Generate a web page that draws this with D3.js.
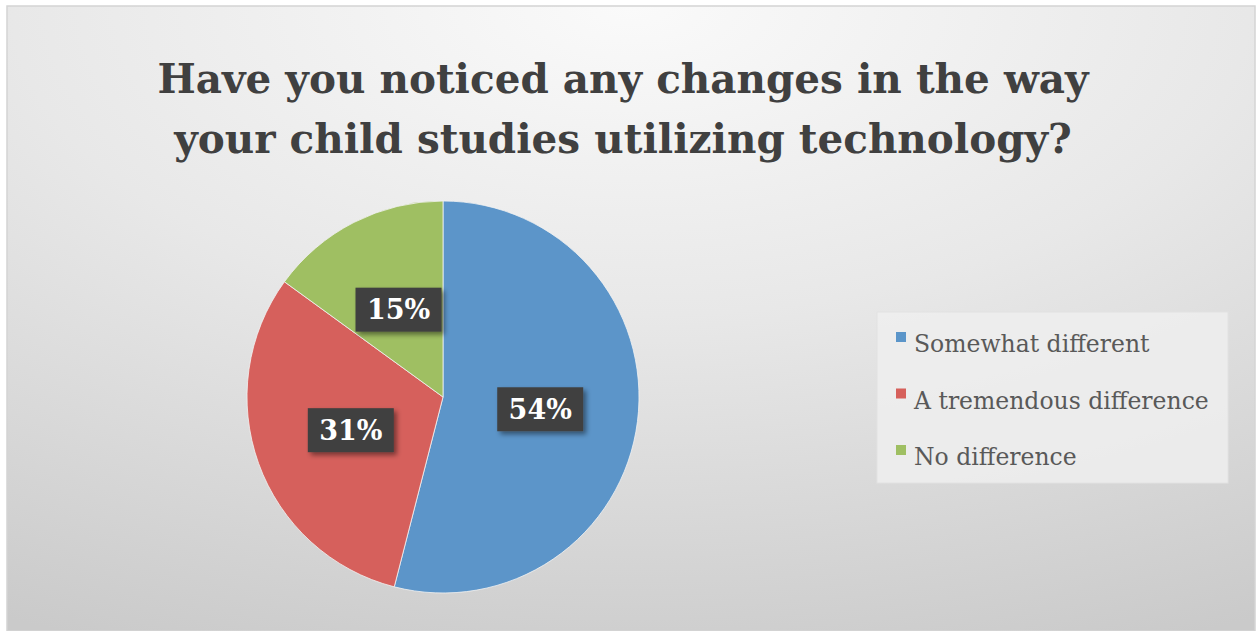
<!DOCTYPE html>
<html>
<head>
<meta charset="utf-8">
<script src="https://cdn.jsdelivr.net/npm/d3@7"></script>
<style>
  html, body { margin: 0; padding: 0; background: #ffffff; }
  svg { display: block; }
</style>
</head>
<body>
<svg id="chart" width="1257" height="631"></svg>
<script>
// Survey responses
const categories = ["Somewhat different", "A tremendous difference", "No difference"];
const percentages = [54, 31, 15];
const sliceColors = ["#5b95c9", "#d6605b", "#9fbf62"];
const titleLines = ["Have you noticed any changes in the way", "your child studies utilizing technology?"];

const W = 1257, H = 631;
const svg = d3.select("#chart");
const defs = svg.append("defs");

// Soft grey panel gradient, light at the top centre
const bg = defs.append("radialGradient").attr("id", "panelBg")
  .attr("cx", "50%").attr("cy", "0%").attr("r", "110%")
  .attr("fx", "50%").attr("fy", "0%");
bg.append("stop").attr("offset", "0%").attr("stop-color", "#fafafa");
bg.append("stop").attr("offset", "45%").attr("stop-color", "#e8e8e8");
bg.append("stop").attr("offset", "100%").attr("stop-color", "#cacaca");

const shadow = defs.append("filter").attr("id", "boxShadow")
  .attr("x", "-20%").attr("y", "-20%").attr("width", "150%").attr("height", "160%");
shadow.append("feDropShadow").attr("dx", 3).attr("dy", 3).attr("stdDeviation", 2.5)
  .attr("flood-color", "#000").attr("flood-opacity", 0.45);

const soft = defs.append("filter").attr("id", "soft");
soft.append("feGaussianBlur").attr("stdDeviation", 0.6);

// Chart panel
svg.append("rect")
  .attr("x", 7).attr("y", 6).attr("width", W - 9).attr("height", H - 6)
  .attr("fill", "url(#panelBg)")
  .attr("stroke", "#d4d4d4").attr("stroke-width", 1.5);

// Title
const title = svg.append("text")
  .attr("text-anchor", "middle")
  .attr("font-family", "'DejaVu Serif', serif")
  .attr("font-weight", "bold")
  .attr("font-size", 40.5)
  .attr("fill", "#404040");
titleLines.forEach((line, i) => {
  title.append("tspan").attr("x", 623).attr("y", 93 + i * 60).text(line);
});

// Pie
const cx = 443, cy = 397, radius = 196;
const pie = d3.pie().sort(null).value(d => d)(percentages);
const arc = d3.arc().innerRadius(0).outerRadius(radius);

const g = svg.append("g").attr("transform", `translate(${cx},${cy})`);
g.selectAll("path.slice")
  .data(pie)
  .join("path")
  .attr("class", "slice")
  .attr("d", arc)
  .attr("fill", (d, i) => sliceColors[i])
  .attr("stroke", "#f2f2f2")
  .attr("stroke-width", 0.8)
  .attr("filter", "url(#soft)");

// Data labels in dark boxes
const labels = g.selectAll("g.lbl")
  .data(pie)
  .join("g")
  .attr("class", "lbl")
  .attr("transform", d => {
    const [x, y] = arc.centroid(d);
    return `translate(${x},${y})`;
  });
labels.append("rect")
  .attr("x", -43).attr("y", -22).attr("width", 86).attr("height", 44)
  .attr("fill", "#404040")
  .attr("filter", "url(#boxShadow)");
labels.append("text")
  .attr("text-anchor", "middle")
  .attr("dy", "0.36em")
  .attr("font-family", "'DejaVu Serif', serif")
  .attr("font-weight", "bold")
  .attr("font-size", 27)
  .attr("fill", "#ffffff")
  .text(d => d.data + "%");

// Legend
const legend = svg.append("g");
legend.append("rect")
  .attr("x", 877).attr("y", 312).attr("width", 351).attr("height", 171)
  .attr("fill", "#eeeeee").attr("fill-opacity", 0.85)
  .attr("stroke", "#e2e2e2");
const ly = d3.scalePoint().domain(categories).range([344, 457]);
const items = legend.selectAll("g.item")
  .data(categories)
  .join("g")
  .attr("class", "item")
  .attr("transform", d => `translate(896,${ly(d)})`);
items.append("rect")
  .attr("x", 0).attr("y", -12).attr("width", 10).attr("height", 10)
  .attr("fill", (d, i) => sliceColors[i]);
items.append("text")
  .attr("x", 18).attr("y", 8)
  .attr("font-family", "'DejaVu Serif', serif")
  .attr("font-size", 23.5)
  .attr("fill", "#595959")
  .text(d => d);
</script>
</body>
</html>
